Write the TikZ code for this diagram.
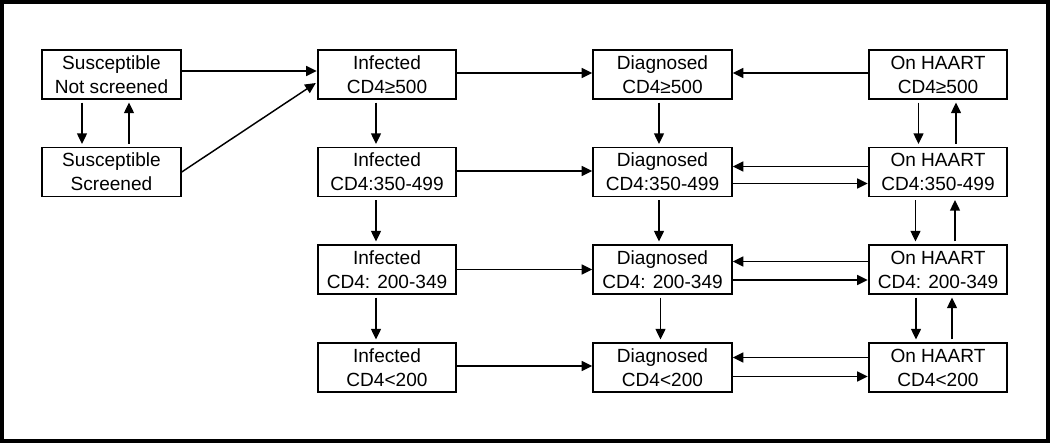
\documentclass[tikz,border=0pt]{standalone}
\usepackage{fontspec}
\setmainfont{Liberation Sans}
\usetikzlibrary{arrows.meta,calc}
\tikzset{
  box/.style={draw, line width=1.3pt, minimum width=104pt, minimum height=36.75pt,
    inner sep=0pt, align=center, font=\fontsize{14.3}{18}\selectfont},
  arr/.style={line width=1.1pt, -{Triangle[length=8pt,width=7.5pt]}},
  varr/.style={arr, shorten >=2pt, shorten <=2pt},
  frame/.style={line width=3pt}
}
\begin{document}
\begin{tikzpicture}[x=0.75pt,y=-0.75pt]
\useasboundingbox (0,0) rectangle (1050,443);
\draw[frame] (2,2) rectangle (1048,441);
% nodes
\node[box] (sn) at (111.5,74.5) {Susceptible\\Not screened};
\node[box] (ss) at (111.5,172) {Susceptible\\Screened};
\node[box] (i1) at (387,74.5) {Infected\\CD4≥500};
\node[box] (i2) at (387,172) {Infected\\CD4:350-499};
\node[box] (i3) at (387,269.5) {Infected\\CD4: 200-349};
\node[box] (i4) at (387,367.5) {Infected\\CD4<200};
\node[box] (d1) at (662.5,74.5) {Diagnosed\\CD4≥500};
\node[box] (d2) at (662.5,172) {Diagnosed\\CD4:350-499};
\node[box] (d3) at (662.5,269.5) {Diagnosed\\CD4: 200-349};
\node[box] (d4) at (662.5,367.5) {Diagnosed\\CD4<200};
\node[box] (h1) at (938,74.5) {On HAART\\CD4≥500};
\node[box] (h2) at (938,172) {On HAART\\CD4:350-499};
\node[box] (h3) at (938,269.5) {On HAART\\CD4: 200-349};
\node[box] (h4) at (938,367.5) {On HAART\\CD4<200};
% susceptible
\draw[varr] ($(sn.south)+(-29.5,0)$) -- ($(ss.north)+(-29.5,0)$);
\draw[varr] ($(ss.north)+(17.5,0)$) -- ($(sn.south)+(17.5,0)$);
\draw[arr] ($(sn.east)+(0,-3.5)$) -- ($(i1.west)+(0,-3.5)$);
\draw[arr] (ss.east) -- ($(i1.west)+(-1,8.5)$);
% infected
\draw[varr] ($(i1.south)+(-11,0)$) -- ($(i2.north)+(-11,0)$);
\draw[varr] ($(i2.south)+(-11,0)$) -- ($(i3.north)+(-11,0)$);
\draw[varr] ($(i3.south)+(-11,0)$) -- ($(i4.north)+(-11,0)$);
\draw[arr] ($(i1.east)+(0,-1.5)$) -- ($(d1.west)+(0,-1.5)$);
\draw[arr] ($(i2.east)+(0,-1)$) -- ($(d2.west)+(0,-1)$);
\draw[arr] (i3.east) -- (d3.west);
\draw[arr] ($(i4.east)+(0,-1.5)$) -- ($(d4.west)+(0,-1.5)$);
% diagnosed
\draw[varr] ($(d1.south)+(-3.5,0)$) -- ($(d2.north)+(-3.5,0)$);
\draw[varr] ($(d2.south)+(-3.5,0)$) -- ($(d3.north)+(-3.5,0)$);
\draw[varr] ($(d3.south)+(-2,0)$) -- ($(d4.north)+(-2,0)$);
% diagnosed <-> HAART
\draw[arr] ($(h1.west)+(0,-1.5)$) -- ($(d1.east)+(0,-1.5)$);
\draw[arr] ($(h2.west)+(0,-5.5)$) -- ($(d2.east)+(0,-5.5)$);
\draw[arr] ($(d2.east)+(0,11.5)$) -- ($(h2.west)+(0,11.5)$);
\draw[arr] ($(h3.west)+(0,-8)$) -- ($(d3.east)+(0,-8)$);
\draw[arr] ($(d3.east)+(0,10.5)$) -- ($(h3.west)+(0,10.5)$);
\draw[arr] ($(h4.west)+(0,-10)$) -- ($(d4.east)+(0,-10)$);
\draw[arr] ($(d4.east)+(0,9)$) -- ($(h4.west)+(0,9)$);
% HAART verticals
\draw[varr] ($(h1.south)+(-19.5,0)$) -- ($(h2.north)+(-19.5,0)$);
\draw[varr] ($(h2.north)+(18,0)$) -- ($(h1.south)+(18,0)$);
\draw[varr] ($(h2.south)+(-22.5,0)$) -- ($(h3.north)+(-22.5,0)$);
\draw[varr] ($(h3.north)+(17,0)$) -- ($(h2.south)+(17,0)$);
\draw[varr] ($(h3.south)+(-22,0)$) -- ($(h4.north)+(-22,0)$);
\draw[varr] ($(h4.north)+(14,0)$) -- ($(h3.south)+(14,0)$);
\end{tikzpicture}
\end{document}
